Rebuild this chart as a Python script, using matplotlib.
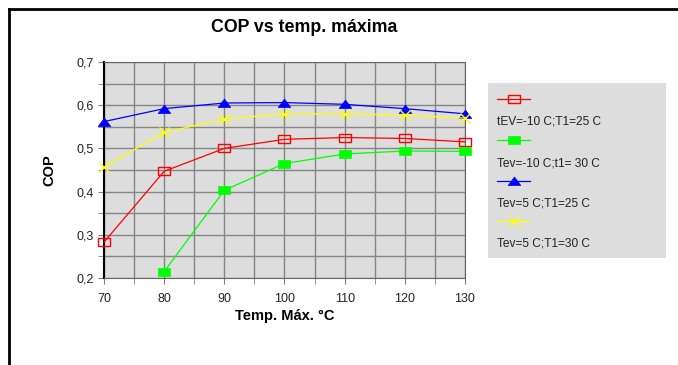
import matplotlib
matplotlib.use("Agg")
import matplotlib.pyplot as plt
from matplotlib.lines import Line2D
from matplotlib.patches import Rectangle
from matplotlib.ticker import MultipleLocator, FuncFormatter

plt.rcParams["font.family"] = ["Liberation Sans", "DejaVu Sans"]

# ── data ───────────────────────────────────────────────────────────────────
temps = [70, 80, 90, 100, 110, 120, 130]
cop_tev_m10_t25 = [0.283, 0.447, 0.500, 0.521, 0.525, 0.523, 0.515]
temps_green = [80, 90, 100, 110, 120, 130]
cop_tev_m10_t30 = [0.215, 0.403, 0.465, 0.487, 0.494, 0.493]
cop_tev_5_t25 = [0.562, 0.592, 0.605, 0.606, 0.602, 0.592, 0.580]
cop_tev_5_t30 = [0.457, 0.537, 0.568, 0.580, 0.580, 0.577, 0.570]

labels = ["tEV=-10 C;T1=25 C", "Tev=-10 C;t1= 30 C",
          "Tev=5 C;T1=25 C", "Tev=5 C;T1=30 C"]

# Excel-like wide markers
wide_box = [(-1.5, -1), (1.5, -1), (1.5, 1), (-1.5, 1), (-1.5, -1)]
wide_tri = [(-1.4, -0.9), (1.4, -0.9), (0, 1.0), (-1.4, -0.9)]

styles = [
    dict(color="#FF0000", marker=wide_box, mfc="none", mec="#FF0000", ms=9, mew=1.0),
    dict(color="#00FF00", marker=wide_box, mfc="#00FF00", mec="#00FF00", ms=9, mew=0.5),
    dict(color="#0000FF", marker=wide_tri, mfc="#0000FF", mec="#0000FF", ms=9, mew=0.5),
    dict(color="#FFFF00", marker="x", mec="#FFFF00", ms=7, mew=1.0),
]

fig = plt.figure(figsize=(6.78, 3.65), dpi=100)
ax = fig.add_axes([0.1534, 0.2384, 0.5324, 0.5918])
ax.set_facecolor("#DDDDDD")

series = [(temps, cop_tev_m10_t25), (temps_green, cop_tev_m10_t30),
          (temps, cop_tev_5_t25), (temps, cop_tev_5_t30)]
for (x, y), st in zip(series, styles):
    ax.plot(x, y, lw=0.9, clip_on=False, zorder=3, **st)

ax.set_xlim(70, 130)
ax.set_ylim(0.2, 0.7)
ax.xaxis.set_major_locator(MultipleLocator(10))
ax.xaxis.set_minor_locator(MultipleLocator(5))
ax.yaxis.set_major_locator(MultipleLocator(0.1))
ax.yaxis.set_minor_locator(MultipleLocator(0.05))
ax.yaxis.set_major_formatter(FuncFormatter(lambda v, p: f"{v:.1f}".replace(".", ",")))
ax.grid(which="both", color="#858585", lw=1.0, zorder=1)
ax.set_axisbelow(True)
ax.tick_params(which="both", direction="out", length=4, color="#808080",
               labelsize=9, labelcolor="#222222")
ax.tick_params(axis="x", pad=7)

for side in ["top", "right", "bottom"]:
    ax.spines[side].set_color("#666666")
ax.spines["left"].set_color("black")
ax.spines["left"].set_linewidth(1.5)

ax.set_xlabel("Temp. Máx. °C", fontsize=10.5, fontweight="bold", labelpad=3)
ax.set_ylabel("COP", fontsize=10.5, fontweight="bold", labelpad=14)
fig.text(304 / 678, 1 - 28 / 365, "COP vs temp. máxima", ha="center",
         va="center", fontsize=12.8, fontweight="bold")

# ── legend box (Excel style: handle row, label row below) ──────────────────
W, H = 678, 365
fig.patches.append(Rectangle((488 / W, 1 - 258 / H), 178 / W, 175 / H,
                             transform=fig.transFigure, facecolor="#DDDDDD",
                             edgecolor="none", zorder=0))
handle_y = [99, 140, 181, 221]
text_y = [122, 163, 203, 244]
for st, lab, hy, ty in zip(styles, labels, handle_y, text_y):
    fig.lines.append(Line2D([497 / W, 530 / W], [1 - hy / H] * 2,
                            transform=fig.transFigure, lw=0.9,
                            color=st["color"]))
    mst = {k: v for k, v in st.items() if k != "color"}
    fig.lines.append(Line2D([513.5 / W], [1 - hy / H], transform=fig.transFigure,
                            lw=0, **mst))
    fig.text(497 / W, 1 - ty / H, lab, fontsize=8.6, va="center", ha="left",
             color="#222222")

# ── outer frame (top and left edges visible) ───────────────────────────────
fig.lines.append(Line2D([9 / W, 1.0], [1 - 9 / H] * 2, transform=fig.transFigure,
                        color="black", lw=2))
fig.lines.append(Line2D([9 / W, 9 / W], [0, 1 - 9 / H], transform=fig.transFigure,
                        color="black", lw=2))

fig.savefig("out.png", dpi=100)
